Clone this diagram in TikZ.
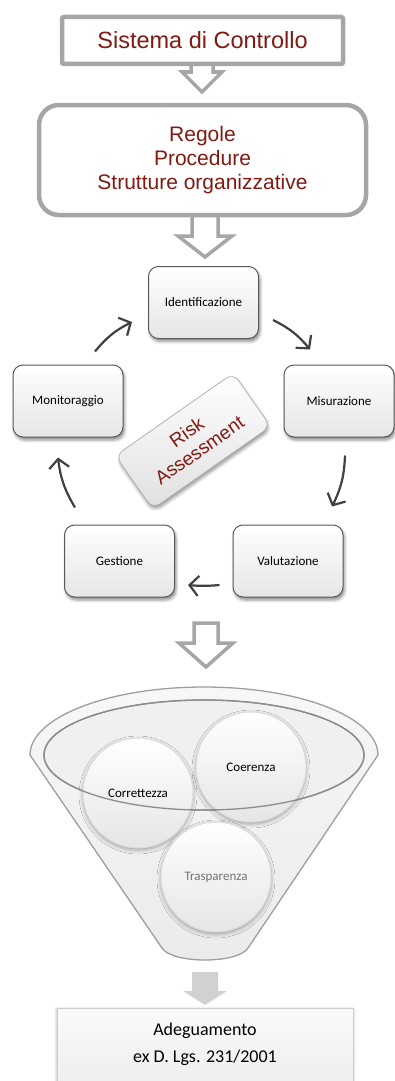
\documentclass[tikz,border=0pt]{standalone}
\usepackage{fontspec}
\setmainfont{Carlito}
\newfontfamily\arialf{Liberation Sans}
\usetikzlibrary{shadows,shadows.blur,calc,arrows.meta,shapes.geometric}
\definecolor{dred}{RGB}{128,26,18}
\definecolor{hgray}{RGB}{166,166,166}
\definecolor{cgray}{RGB}{64,64,64}
\begin{document}
\begin{tikzpicture}[x=1pt,y=1pt,
  hollow/.style={draw=hgray, line width=3.5pt, fill=white, line join=miter},
  topbox/.style={draw=hgray, line width=4.5pt, fill=white, text=dred, align=center},
  cyc/.style={draw=black!65, line width=1pt, rounded corners=10pt, minimum width=110, minimum height=72,
    top color=white, bottom color=black!10,
    blur shadow={shadow xshift=1.5pt, shadow yshift=-3pt, shadow blur radius=3pt, shadow opacity=45},
    font=\fontsize{13}{15}\selectfont},
  cyar/.style={-{Straight Barb[length=9pt,width=20pt]}, line width=2.2pt, draw=cgray, bend left=12},
  ball/.style={circle, minimum size=110, top color=white, bottom color=black!10, draw=black!14, line width=1pt,
    blur shadow={shadow xshift=0pt, shadow yshift=-2pt, shadow blur radius=4pt, shadow opacity=35},
    font=\fontsize{13}{15}\selectfont}
]
\useasboundingbox (0,0) rectangle (395,-1081);
\clip (0,0) rectangle (395,-1081);

% hollow arrow 1
\path[hollow] (191,-60) -- (191,-72) -- (182,-72) -- (202,-92) -- (222,-72) -- (213,-72) -- (213,-60);
\node[topbox, rounded corners=2pt, minimum width=281, minimum height=47,
  font=\arialf\fontsize{23.5}{26}\selectfont] (sist) at (202.5,-40.5) {Sistema di Controllo};

% hollow arrow 2
\path[hollow] (192,-210) -- (192,-236) -- (178,-236) -- (205,-257) -- (232,-236) -- (218,-236) -- (218,-210);
\node[topbox, rounded corners=20pt, minimum width=327, minimum height=110,
  font=\arialf\fontsize{21}{24}\selectfont] (regole) at (202.5,-160) {Regole\\Procedure\\Strutture organizzative};

% cycle
\node[cyc] (ident) at (203.5,-302.5) {Identificazione};
\node[cyc] (misur) at (339,-401) {Misurazione};
\node[cyc] (valut) at (288,-561) {Valutazione};
\node[cyc] (gest)  at (119.5,-561) {Gestione};
\node[cyc] (monit) at (68,-401) {Monitoraggio};

\node[draw=black!30, line width=0.8pt, rounded corners=9pt, rotate=35, minimum width=144, minimum height=65,
  top color=white, bottom color=black!12, text=dred, align=center,
  blur shadow={shadow xshift=1pt, shadow yshift=-3pt, shadow blur radius=3pt, shadow opacity=40},
  font=\arialf\fontsize{19}{22}\selectfont] (risk) at (193,-441) {Risk\\Assessment};

\draw[cyar] ($(monit.north)+(27,13)$) to ($(ident.west)+(-16,-19.5)$);
\draw[cyar] ($(ident.east)+(14,-17.5)$) to ($(misur.north)+(-29,15)$);
\draw[cyar] ($(misur.south)+(6,-18)$) to ($(valut.north)+(44,18)$);
\draw[cyar, bend left=5] ($(valut.west)+(-13,-24)$) to ($(gest.east)+(13,-24)$);
\draw[cyar] ($(gest.north)+(-44.5,17)$) to ($(monit.south)+(-10,-20)$);

% hollow arrow 3
\path[hollow] (194,-623) -- (194,-643) -- (179,-643) -- (206,-667) -- (233,-643) -- (218,-643) -- (218,-623) -- cycle;

% funnel
\path[draw=black!38, line width=1.3pt, top color=black!3, bottom color=black!8]
  (30,-755) arc[start angle=180, end angle=0, x radius=174, y radius=68]
  -- (248,-948) .. controls (238,-964) and (172,-964) .. (162,-948) -- cycle;
\node[ellipse, draw=black!45, line width=1.3pt, fill=black!6, minimum width=320, minimum height=110] (inner) at (204,-755) {};
\node[ball] (corr) at (138,-793) {Correttezza};
\node[ball] (coer) at (251,-767) {Coerenza};
\node[ball, text=black!55] (trasp) at (216,-877) {Trasparenza};
\draw[black!45, line width=1.3pt] (inner.center) ellipse[x radius=160, y radius=55];

% solid arrow 4
\fill[black!18] (192,-972) -- (218,-972) -- (218,-991) -- (227,-991) -- (205,-1005) -- (183,-991) -- (192,-991) -- cycle;

\node[draw=black!20, line width=1pt, top color=black!2, bottom color=black!8, minimum width=296, minimum height=100,
  anchor=north, blur shadow={shadow xshift=0pt, shadow yshift=-1pt, shadow blur radius=3pt, shadow opacity=35}] (adeg) at (205,-1008) {};
\node[align=center, font=\fontsize{18}{27}\selectfont] (adegtxt) at (205,-1044.5) {Adeguamento\\ex D. Lgs. 231/2001};
\end{tikzpicture}
\end{document}
